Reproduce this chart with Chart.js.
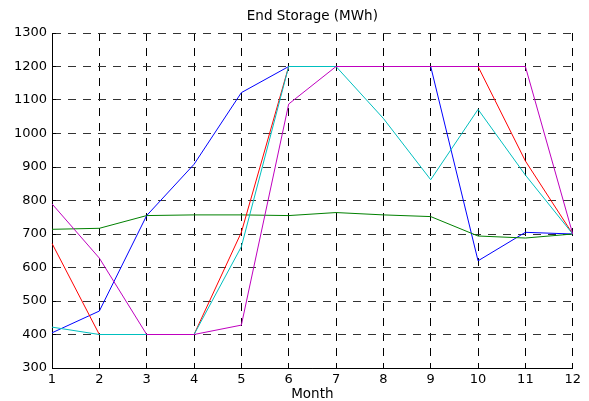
<!DOCTYPE html>
<html>
<head>
<meta charset="utf-8">
<script src="https://cdn.jsdelivr.net/npm/chart.js@4"></script>
<style>
  body { margin: 0; background: #fff; }
</style>
</head>
<body>
<canvas id="storage" width="589" height="401"></canvas>
<script>
const months = ["1", "2", "3", "4", "5", "6", "7", "8", "9", "10", "11", "12"];
const yTicks = [300, 400, 500, 600, 700, 800, 900, 1000, 1100, 1200, 1300];

const blue = [405, 470, 755, 908, 1122, 1200, 1200, 1200, 1200, 620, 705, 700];
const green = [714, 717, 755, 757, 757, 755, 764, 757, 752, 694, 688, 700];
const red = [672, 400, 400, 400, 705, 1200, 1200, 1200, 1200, 1200, 918, 700];
const cyan = [422, 400, 400, 400, 662, 1200, 1200, 1045, 862, 1072, 876, 700];
const magenta = [790, 628, 400, 400, 428, 1088, 1200, 1200, 1200, 1200, 1200, 700];

const font = "'DejaVu Sans', sans-serif";

function line(data, color, order) {
  return {
    data: data,
    borderColor: color,
    borderWidth: 1,
    pointRadius: 0,
    tension: 0,
    fill: false,
    order: order,
  };
}

new Chart(document.getElementById("storage"), {
  type: "line",
  data: {
    labels: months,
    datasets: [
      line(blue, "#0000ff", 5),
      line(green, "#008000", 4),
      line(red, "#ff0000", 3),
      line(cyan, "#00bfbf", 2),
      line(magenta, "#bf00bf", 1),
    ],
  },
  options: {
    responsive: false,
    animation: false,
    layout: { padding: { left: 0, right: 16, top: 0, bottom: 0 } },
    plugins: {
      legend: { display: false },
      tooltip: { enabled: false },
    },
    scales: {
      // top axis only carries the title, so it centres over the plot area
      top: {
        type: "category",
        position: "top",
        afterFit: (s) => { s.height = 33; },
        grid: { display: false, drawTicks: false },
        border: { display: false },
        ticks: { display: false },
        title: {
          display: true,
          text: "End Storage (MWh)",
          color: "#000",
          font: { family: font, size: 13.5 },
          padding: { top: 8, bottom: 0 },
        },
      },
      x: {
        offset: false,
        afterFit: (s) => { s.height = 33; },
        grid: {
          color: "#000",
          lineWidth: 1,
          tickLength: -4,
          tickColor: "#000",
        },
        border: { display: true, color: "#000", width: 1, dash: [8, 7] },
        ticks: {
          color: "#000",
          font: { family: font, size: 13 },
          padding: 8,
          maxRotation: 0,
          autoSkip: false,
        },
        title: {
          display: true,
          text: "Month",
          color: "#000",
          font: { family: font, size: 13.5 },
          padding: { top: 0, bottom: -2 },
        },
      },
      y: {
        min: 300,
        max: 1300,
        afterFit: (s) => { s.width = 52; },
        afterBuildTicks: (s) => { s.ticks = yTicks.map((v) => ({ value: v })); },
        grid: {
          color: "#333",
          lineWidth: 1,
          tickLength: -4,
          tickColor: "#000",
        },
        border: { display: true, color: "#000", width: 1, dash: [8, 7] },
        ticks: {
          color: "#000",
          font: { family: font, size: 13 },
          padding: 9,
          callback: (v) => String(v),
        },
      },
    },
  },
});
</script>
</body>
</html>
